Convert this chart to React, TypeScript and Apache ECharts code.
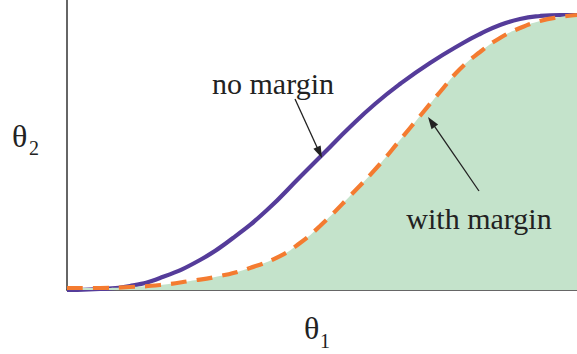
import React, { useEffect, useRef } from "react";
import * as echarts from "echarts";

// θ1 (x) and θ2 (y) values, normalised 0..1
const noMarginX = [0, 0.0647, 0.1235, 0.1824, 0.2608, 0.3255, 0.3922, 0.4569, 0.5059, 0.5549, 0.6039, 0.6529, 0.7118, 0.7765, 0.8098, 0.849, 0.8882, 0.9275, 0.9667, 1.0];
const noMarginY = [0, 0.0034, 0.0138, 0.0414, 0.1034, 0.1793, 0.2759, 0.3897, 0.4759, 0.5621, 0.6414, 0.7103, 0.7828, 0.8517, 0.8828, 0.9138, 0.9345, 0.9448, 0.9483, 0.9483];

const withMarginX = [0, 0.0647, 0.1235, 0.1824, 0.2412, 0.3, 0.3588, 0.4176, 0.4569, 0.4961, 0.5549, 0.6137, 0.6529, 0.6922, 0.7314, 0.7706, 0.8098, 0.849, 0.8882, 0.9275, 0.9667, 1.0];
const withMarginY = [0.0069, 0.0069, 0.0103, 0.0172, 0.031, 0.0483, 0.0759, 0.1172, 0.1621, 0.2207, 0.3241, 0.4345, 0.5172, 0.6, 0.6828, 0.7621, 0.8207, 0.869, 0.9034, 0.9276, 0.9414, 0.9483];

const labelNoMargin = "no margin";
const labelWithMargin = "with margin";

const SERIF = "'Liberation Serif', 'Times New Roman', serif";

function arrow(tail: number[], tip: number[], color: string) {
  const dx = tip[0] - tail[0];
  const dy = tip[1] - tail[1];
  const len = Math.sqrt(dx * dx + dy * dy);
  const ux = dx / len;
  const uy = dy / len;
  const hl = 12;
  const hw = 4;
  const bx = tip[0] - ux * hl;
  const by = tip[1] - uy * hl;
  const px = -uy * hw;
  const py = ux * hw;
  return [
    {
      type: "line",
      shape: { x1: tail[0], y1: tail[1], x2: bx + ux * 2, y2: by + uy * 2 },
      style: { stroke: color, lineWidth: 1.3 },
      z: 100,
    },
    {
      type: "polygon",
      shape: { points: [[tip[0], tip[1]], [bx + px, by + py], [bx - px, by - py]] },
      style: { fill: color },
      z: 100,
    },
  ];
}

export default function App() {
  const ref = useRef<HTMLDivElement>(null);
  useEffect(() => {
    if (!ref.current) return;
    const chart = echarts.init(ref.current, null, { renderer: "svg" });
    const textColor = "#222";
    chart.setOption({
      animation: false,
      backgroundColor: "#ffffff",
      grid: { left: 67, right: 0, top: 0, bottom: 64, containLabel: false },
      xAxis: {
        type: "value",
        min: 0,
        max: 1,
        axisLine: { show: true, lineStyle: { color: "#333", width: 1.5 } },
        axisTick: { show: false },
        axisLabel: { show: false },
        splitLine: { show: false },
      },
      yAxis: {
        type: "value",
        min: 0,
        max: 1,
        axisLine: { show: true, lineStyle: { color: "#333", width: 1.5 } },
        axisTick: { show: false },
        axisLabel: { show: false },
        splitLine: { show: false },
      },
      series: [
        {
          name: labelNoMargin,
          type: "line",
          data: noMarginX.map((x, i) => [x, noMarginY[i]]),
          smooth: 0.5,
          showSymbol: false,
          lineStyle: { color: "#553c9a", width: 4.2 },
          z: 2,
        },
        {
          name: labelWithMargin,
          type: "line",
          data: withMarginX.map((x, i) => [x, withMarginY[i]]),
          smooth: 0.5,
          showSymbol: false,
          lineStyle: { color: "#f47b30", width: 4.2, type: [16, 10] },
          areaStyle: { color: "#c4e3cb", opacity: 1 },
          z: 3,
        },
      ],
      graphic: [
        {
          type: "text",
          x: 273,
          y: 83,
          style: { text: labelNoMargin, font: `30px ${SERIF}`, fill: textColor, align: "center", verticalAlign: "middle" },
          z: 100,
        },
        {
          type: "text",
          x: 479,
          y: 218,
          style: { text: labelWithMargin, font: `30px ${SERIF}`, fill: textColor, align: "center", verticalAlign: "middle" },
          z: 100,
        },
        ...arrow([295, 99], [322, 158], textColor),
        ...arrow([479, 191], [428, 117], textColor),
        {
          type: "text",
          x: 12,
          y: 136,
          style: { text: "θ", font: `32px ${SERIF}`, fill: textColor, align: "left", verticalAlign: "middle" },
        },
        {
          type: "text",
          x: 29,
          y: 148.3,
          style: { text: "2", font: `20px ${SERIF}`, fill: textColor, align: "left", verticalAlign: "middle" },
        },
        {
          type: "text",
          x: 304,
          y: 328,
          style: { text: "θ", font: `32px ${SERIF}`, fill: textColor, align: "left", verticalAlign: "middle" },
        },
        {
          type: "text",
          x: 320,
          y: 341,
          style: { text: "1", font: `20px ${SERIF}`, fill: textColor, align: "left", verticalAlign: "middle" },
        },
      ],
    });
    return () => chart.dispose();
  }, []);
  return <div ref={ref} style={{ position: "fixed", left: 0, top: 0, width: 577, height: 354 }} />;
}
